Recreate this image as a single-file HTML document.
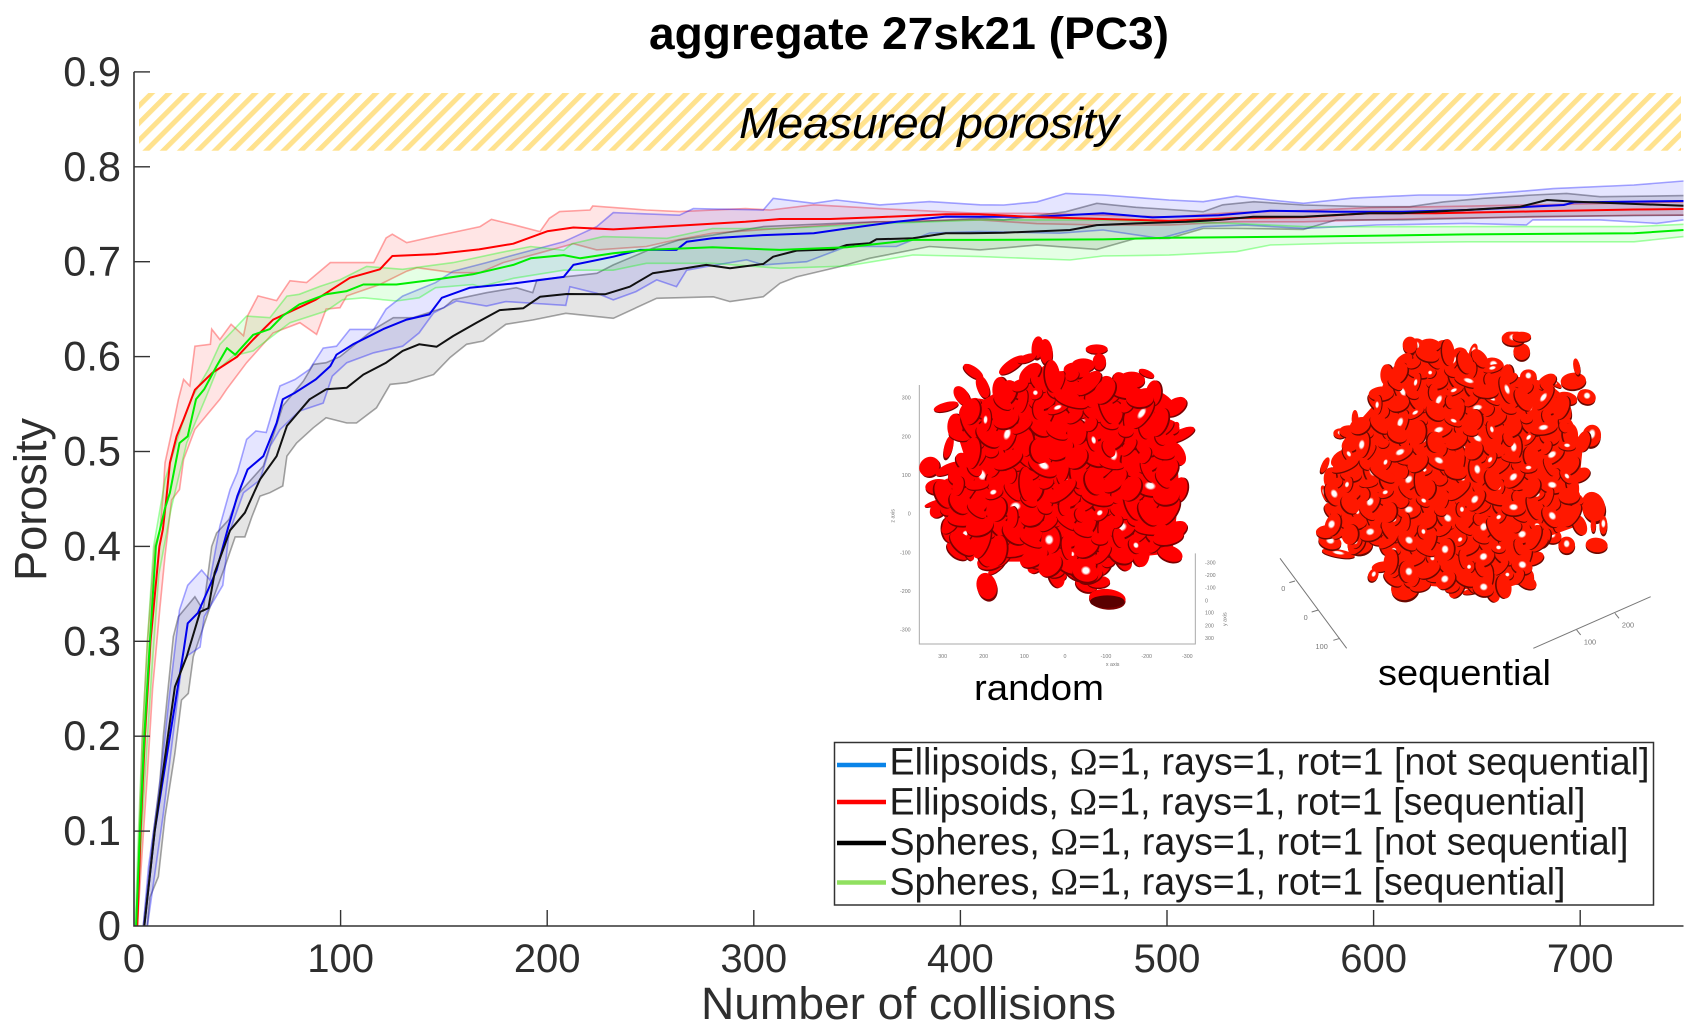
<!DOCTYPE html>
<html lang="en">
<head>
<meta charset="utf-8">
<title>aggregate 27sk21 (PC3)</title>
<style>
html,body{margin:0;padding:0;background:#fff;width:1701px;height:1036px;overflow:hidden}
svg{display:block}
text{font-family:"Liberation Sans",Arial,sans-serif}
.tick{font-size:40px;fill:#2e2e2e}
.ytick{font-size:41.5px;fill:#2e2e2e}
.leg{font-size:38px;fill:#1c1c1c}
.ins{font-size:16px;fill:#777}
</style>
</head>
<body>
<svg id="chart" xmlns="http://www.w3.org/2000/svg" width="1701" height="1036" viewBox="0 0 1701 1036">
  <defs>
    <pattern id="hatch" width="12.2" height="12.2" patternUnits="userSpaceOnUse" patternTransform="translate(148.3 93) rotate(45)">
      <rect width="5" height="12.2" fill="#ffe28e"></rect>
    </pattern>
    <radialGradient id="shine">
      <stop offset="0" stop-color="#fff"></stop>
      <stop offset="0.55" stop-color="#fff"></stop>
      <stop offset="1" stop-color="#fff" stop-opacity="0"></stop>
    </radialGradient>
    <clipPath id="plot-clip"><rect x="134" y="60" width="1550" height="866"></rect></clipPath>
    <clipPath id="seq-clip"><rect x="0" y="20" width="1200" height="950"></rect></clipPath>
  </defs>
  <rect x="0" y="0" width="1701" height="1036" fill="#fff"></rect>

  <g id="inset-random" transform="translate(890 330) scale(0.33333)">
    <g id="inset-random-axes" stroke="#aaa" stroke-width="3" fill="none">
      <path d="M88 165V942H916V670"></path>
    </g>
    <g>
      <text class="ins" x="62" y="209" text-anchor="end">300</text>
      <text class="ins" x="62" y="325" text-anchor="end">200</text>
      <text class="ins" x="62" y="441" text-anchor="end">100</text>
      <text class="ins" x="62" y="557" text-anchor="end">0</text>
      <text class="ins" x="62" y="673" text-anchor="end">-100</text>
      <text class="ins" x="62" y="789" text-anchor="end">-200</text>
      <text class="ins" x="62" y="905" text-anchor="end">-300</text>
      <text class="ins" x="158" y="984" text-anchor="middle">300</text>
      <text class="ins" x="281" y="984" text-anchor="middle">200</text>
      <text class="ins" x="403" y="984" text-anchor="middle">100</text>
      <text class="ins" x="525" y="984" text-anchor="middle">0</text>
      <text class="ins" x="648" y="984" text-anchor="middle">-100</text>
      <text class="ins" x="770" y="984" text-anchor="middle">-200</text>
      <text class="ins" x="892" y="984" text-anchor="middle">-300</text>
      <text class="ins" x="668" y="1008" text-anchor="middle">x axis</text>
      <text class="ins" x="945" y="703">-300</text>
      <text class="ins" x="945" y="741">-200</text>
      <text class="ins" x="945" y="779">-100</text>
      <text class="ins" x="945" y="817">0</text>
      <text class="ins" x="945" y="854">100</text>
      <text class="ins" x="945" y="892">200</text>
      <text class="ins" x="945" y="930">300</text>
      <text class="ins" transform="translate(1010 888) rotate(-90)">y axis</text>
      <text class="ins" transform="translate(13 578) rotate(-90)">z axis</text>
    </g>
  </g>

  <g id="inset-seq" transform="translate(1280 325) scale(0.33333)">
    <g stroke="#777" stroke-width="3" fill="none">
      <path d="M0 700L200 970M45 768L28 773M115 855L95 861M180 940L160 946M760 970L1112 815M890 915L902 930M1005 865L1017 880"></path>
    </g>
    <g>
      <text class="ins" style="font-size:22px" x="10" y="798" text-anchor="middle">0</text>
      <text class="ins" style="font-size:22px" x="77" y="885" text-anchor="middle">0</text>
      <text class="ins" style="font-size:22px" x="125" y="972" text-anchor="middle">100</text>
      <text class="ins" style="font-size:22px" x="930" y="958" text-anchor="middle">100</text>
      <text class="ins" style="font-size:22px" x="1044" y="907" text-anchor="middle">200</text>
    </g>
  </g>

  <text x="974" y="700" font-size="36" textLength="130" lengthAdjust="spacingAndGlyphs" fill="#000">random</text>
  <text x="1378" y="685" font-size="36" textLength="173" lengthAdjust="spacingAndGlyphs" fill="#000">sequential</text>

  <rect x="139" y="93" width="1542" height="57.7" fill="url(#hatch)"></rect>
  <text x="739" y="138" font-size="44" font-style="italic" textLength="380" lengthAdjust="spacingAndGlyphs" fill="#000">Measured porosity</text>

  <text x="649" y="49" font-size="45" font-weight="700" textLength="520" lengthAdjust="spacingAndGlyphs" fill="#000">aggregate 27sk21 (PC3)</text>

  <g id="series" clip-path="url(#plot-clip)"></g>
  <g id="axes"></g>

  <text transform="translate(46 581) rotate(-90)" font-size="45" textLength="163" lengthAdjust="spacingAndGlyphs" fill="#2e2e2e">Porosity</text>
  <text x="701" y="1019" font-size="45" textLength="415" lengthAdjust="spacingAndGlyphs" fill="#2e2e2e">Number of collisions</text>

  <g>
    <rect x="834.5" y="742.5" width="819" height="162.5" fill="#fff" stroke="#333" stroke-width="1.5"></rect>
    <line x1="837" x2="886" y1="765" y2="765" stroke="#0a84e8" stroke-width="4.5"></line>
    <line x1="837" x2="886" y1="802" y2="802" stroke="#ff0000" stroke-width="4.5"></line>
    <line x1="837" x2="886" y1="843" y2="843" stroke="#000" stroke-width="4.5"></line>
    <line x1="837" x2="886" y1="882.5" y2="882.5" stroke="#90e060" stroke-width="4.5"></line>
    <text class="leg" x="889.5" y="774.5" textLength="760" lengthAdjust="spacingAndGlyphs">Ellipsoids, <tspan font-family="Liberation Serif">Ω</tspan>=1, rays=1, rot=1 [not sequential]</text>
    <text class="leg" x="889.5" y="814.5" textLength="696" lengthAdjust="spacingAndGlyphs">Ellipsoids, <tspan font-family="Liberation Serif">Ω</tspan>=1, rays=1, rot=1 [sequential]</text>
    <text class="leg" x="889.5" y="854.5" textLength="739" lengthAdjust="spacingAndGlyphs">Spheres, <tspan font-family="Liberation Serif">Ω</tspan>=1, rays=1, rot=1 [not sequential]</text>
    <text class="leg" x="889.5" y="894.5" textLength="676" lengthAdjust="spacingAndGlyphs">Spheres, <tspan font-family="Liberation Serif">Ω</tspan>=1, rays=1, rot=1 [sequential]</text>
  </g>
</svg>

<script>
// Axis tick values
const xTicks = [0,100,200,300,400,500,600,700];
const yTicks = [0,0.1,0.2,0.3,0.4,0.5,0.6,0.7,0.8,0.9];
const yTickLabels = ['0','0.1','0.2','0.3','0.4','0.5','0.6','0.7','0.8','0.9'];

// Ellipsoids, not sequential (blue)
const blueMeanX = [5,10,17.4,24,26,31,35,40,45.6,50,55,62.6,69,72,78,88,95,98,106,120.6,132,143,149,162.6,183.6,208,212.7,232,245,262.6,267.5,280,304.6,329,345,369,393,404.6,437,469,493,525,550,582,614,645,692,697,750];
const blueMeanY = [0,0.1,0.2,0.29,0.319,0.33,0.35,0.375,0.42,0.453,0.481,0.495,0.53,0.555,0.562,0.576,0.59,0.602,0.613,0.629,0.639,0.6445,0.662,0.6726,0.677,0.684,0.6966,0.7053,0.7124,0.7124,0.721,0.7247,0.728,0.73,0.735,0.742,0.7475,0.7474,0.7474,0.751,0.7467,0.749,0.7537,0.7527,0.7527,0.7545,0.7597,0.7625,0.764];
const blueUpperX = [4.5,7,12,17,22,26,32.7,36.8,41.6,46.5,50,54.5,59,64,70.6,78,85,91.6,98,104.5,116,122,130,146,154.5,170.6,183.6,208,224,232,264,270.7,304.6,309.4,329,340,361,385,409.5,421,437,451,469,501,517.5,533.6,550,566,590,622,646,669,687,726,750];
const blueUpperY = [0,0.0625,0.14,0.24,0.333,0.359,0.375,0.3646,0.4215,0.46,0.4777,0.5128,0.5216,0.52,0.569,0.576,0.5866,0.609,0.611,0.6287,0.6287,0.65,0.6638,0.678,0.69,0.699,0.707,0.721,0.737,0.7517,0.749,0.756,0.7545,0.7668,0.7615,0.765,0.7598,0.7633,0.76,0.7597,0.763,0.772,0.7703,0.765,0.7632,0.769,0.765,0.7615,0.767,0.7703,0.7703,0.7738,0.777,0.7808,0.785];
const blueLowerX = [6.5,14,20,23,26,32,34,43,46,53,61,66,70.6,80,91.6,96,103,116,130,138,145,156,170.6,180,209,211,224,232,243,253,262.6,267.5,277,296.5,304.6,325.6,345,369,385,409.5,448,469,496.5,517.5,538,566,601.5,645,674,677,709.5,737,750];
const blueLowerY = [0,0.115,0.22,0.273,0.285,0.294,0.326,0.359,0.4137,0.4566,0.47,0.506,0.523,0.5426,0.551,0.5795,0.5936,0.604,0.611,0.625,0.646,0.6586,0.6533,0.658,0.654,0.6737,0.6667,0.6597,0.6685,0.6808,0.6737,0.691,0.6948,0.702,0.6966,0.70,0.716,0.716,0.73,0.7317,0.73,0.7334,0.7246,0.7369,0.7386,0.735,0.7387,0.7404,0.7387,0.744,0.744,0.7404,0.744];

// Ellipsoids, sequential (red)
const redMeanX = [1.6,3.2,5.3,8,12.3,14,15.8,17.4,20.6,24,29.5,38,50,57.7,67.4,88,104.5,119,125,146,167,183.6,200,212.7,232,248,264,296,312.7,337,361,393,409,437,469,501,533.6,566,598,630,677,726,750];
const redMeanY = [0,0.1,0.2,0.3,0.4,0.418,0.453,0.488,0.516,0.534,0.565,0.583,0.6,0.618,0.639,0.66,0.683,0.692,0.706,0.708,0.713,0.719,0.732,0.736,0.734,0.736,0.738,0.742,0.745,0.745,0.747,0.75,0.75,0.747,0.745,0.743,0.746,0.747,0.751,0.751,0.753,0.755,0.7555];
const redUpperX = [1,2.5,4,6.5,10,12.6,14,15,18.5,21.5,24,27,29.5,37,37.6,41.6,47,53,55,60,69,75.5,83.5,95,116,122,125,132,146,167.5,173,183.6,196.5,201,206,220.7,222,248,264,296,308,329,361,409,437,469,501,533,566,598,630,677,726,750];
const redUpperY = [0,0.1,0.2,0.3,0.4,0.418,0.453,0.488,0.523,0.555,0.576,0.569,0.611,0.613,0.629,0.618,0.634,0.622,0.643,0.664,0.659,0.68,0.678,0.699,0.699,0.725,0.729,0.72,0.727,0.737,0.7447,0.739,0.7317,0.7457,0.7528,0.7545,0.7587,0.7545,0.7528,0.756,0.7545,0.76,0.756,0.751,0.751,0.749,0.747,0.752,0.754,0.757,0.758,0.76,0.762,0.763];
const redLowerX = [1.6,4,6.5,9,12.6,15,18.2,22,24,29.5,41.6,44.8,54.5,67.4,80.3,88.4,93,99.7,103,119,132,137,154.5,167.4,178.7,196,212.7,224,248,258,280,312.7,361,409,437,469,501,533,566,598,630,677,726,750];
const redLowerY = [0,0.08,0.16,0.25,0.336,0.39,0.449,0.46,0.4917,0.5233,0.555,0.5655,0.5936,0.625,0.6357,0.6234,0.65,0.6515,0.664,0.676,0.69,0.6937,0.6884,0.6884,0.699,0.709,0.719,0.7124,0.716,0.721,0.73,0.735,0.742,0.744,0.74,0.7386,0.7386,0.742,0.742,0.744,0.7457,0.747,0.749,0.749];

// Spheres, not sequential (black)
const blackMeanX = [5,10,16.6,19.8,25.5,32,36,39,46.5,53.7,61,69,74,78.7,85,93,103,111,122,130,138,146.5,154.5,165.8,177,188.5,196.5,209.4,228,240,251,264,277,288.5,304.6,309.4,320.7,338.5,345,356,359.4,377,393,404.6,421,453,466,485,509.4,525.6,541.7,566,598,613,645,671,684,696.7,717.6,750];
const blackMeanY = [0,0.1,0.203,0.252,0.284,0.331,0.335,0.372,0.417,0.4355,0.4706,0.495,0.527,0.539,0.555,0.5655,0.5672,0.581,0.5936,0.606,0.613,0.6104,0.6217,0.6357,0.649,0.651,0.663,0.666,0.6657,0.6737,0.6878,0.692,0.6966,0.693,0.6976,0.7053,0.7117,0.713,0.7176,0.7194,0.7236,0.7247,0.73,0.73,0.7306,0.7334,0.7386,0.7404,0.742,0.744,0.7474,0.7474,0.751,0.751,0.7545,0.758,0.765,0.7633,0.7615,0.759];
const blackUpperX = [4.5,9,12.6,14.2,19,21.5,29.5,33.5,37.6,40,46,51,62.6,72,82,86.8,93,99.7,109,116,125.5,135,150,154.5,170.6,185,193,195,224,232,251,264,280,290,304.6,320.7,358,377,409.5,421,451,466,485,517.5,527,542,566,598,617.5,633.6,653,677,693.4,709.6,750];
const blackUpperY = [0,0.09,0.154,0.2,0.305,0.326,0.347,0.333,0.4,0.414,0.4285,0.4566,0.4847,0.548,0.5742,0.5918,0.5936,0.6,0.6164,0.6287,0.641,0.641,0.6515,0.66,0.6673,0.6726,0.6674,0.6808,0.6878,0.6966,0.7141,0.723,0.728,0.7317,0.737,0.7387,0.742,0.742,0.7457,0.744,0.7527,0.7615,0.7573,0.7527,0.76,0.7632,0.7597,0.758,0.758,0.763,0.7668,0.7703,0.772,0.7685,0.7696];
const blackLowerX = [6.5,7.7,11.8,15,19.8,23,26.3,28.7,36.8,44,49,53.7,57,61,65.8,72,74,78.7,86.8,93,103,107.7,117.4,124,132,145,153,161,169,180,193,209,232,253,280.4,288.5,304.6,312.7,320.7,341.7,356,385,409.5,437,466,485,501,517.5,533.6,566,582,614,646,677,750];
const blackLowerY = [0,0.03,0.052,0.115,0.182,0.238,0.245,0.284,0.336,0.3786,0.41,0.41,0.431,0.453,0.4566,0.4636,0.495,0.509,0.525,0.5356,0.53,0.53,0.546,0.5707,0.5725,0.581,0.599,0.613,0.6164,0.634,0.6386,0.6456,0.6404,0.6614,0.663,0.658,0.663,0.6772,0.684,0.6948,0.7036,0.716,0.7124,0.7175,0.713,0.7246,0.7246,0.735,0.735,0.734,0.744,0.744,0.7457,0.7475,0.749];

// Spheres, sequential (green)
const greenMeanX = [1,2.9,5,7.7,10.6,15,17.4,22,26,30,34,40,45,49,57.7,65.8,72,80,93,103,111,127,145,164,183.6,192,208,216,232,248,280,312.7,345,377,409.5,469,501,566,645,726,750];
const greenMeanY = [0,0.1,0.2,0.3,0.4,0.44,0.4566,0.509,0.516,0.555,0.5655,0.59,0.609,0.602,0.623,0.629,0.643,0.655,0.6656,0.669,0.676,0.676,0.681,0.6867,0.6966,0.7036,0.707,0.7036,0.709,0.7124,0.7152,0.7124,0.7152,0.723,0.723,0.7235,0.7253,0.7264,0.7288,0.7299,0.7334];
const greenUpperX = [0.6,2.2,4,6.5,9.5,15,23,28,36,41.6,54.5,65.8,74,80,90,99.7,112.6,130,154.5,177,192,208,212,227,258,280,312.7,361,409.5,469,533.6,566,580,645,726,750];
const greenUpperY = [0,0.1,0.2,0.3,0.4,0.47,0.527,0.5567,0.5865,0.613,0.6427,0.641,0.6638,0.6656,0.674,0.681,0.695,0.692,0.699,0.7095,0.716,0.712,0.719,0.7264,0.7247,0.735,0.735,0.74,0.744,0.744,0.7404,0.737,0.7369,0.737,0.737,0.7394];
const greenLowerX = [1.4,3.5,6,9,12,18,25.5,35,40,48,57.7,69,75.5,93,101,111,127,138,146,164,167.5,183.6,208,232,248,280,312.7,345,377,409.5,453,469,501,533.6,550,582,645,726,750];
const greenLowerY = [0,0.09,0.18,0.28,0.37,0.44,0.509,0.558,0.5848,0.6006,0.606,0.625,0.6357,0.648,0.66,0.662,0.6586,0.662,0.6726,0.676,0.6737,0.6825,0.691,0.691,0.6983,0.6983,0.693,0.6955,0.7071,0.7054,0.7018,0.706,0.707,0.7105,0.7176,0.7194,0.721,0.721,0.7264];

// Axis scales
const xScale = v => 134 + 2.066 * v;
const yScale = v => 926 - 949 * v;

const NS = 'http://www.w3.org/2000/svg';
const seriesLayer = document.getElementById('series');
const axesLayer = document.getElementById('axes');

function points(xs, ys) {
  return xs.map((x, i) => xScale(x).toFixed(1) + ',' + yScale(ys[i]).toFixed(1));
}

function drawBand(key, upX, upY, loX, loY, fill, edge) {
  const up = points(upX, upY);
  const lo = points(loX, loY);
  const band = document.createElementNS(NS, 'polygon');
  band.setAttribute('points', up.concat(lo.slice().reverse()).join(' '));
  band.setAttribute('fill', fill);
  band.setAttribute('fill-opacity', '0.1');
  band.setAttribute('stroke', 'none');
  
  
  seriesLayer.appendChild(band);
  const upper = document.createElementNS(NS, 'polyline');
  upper.setAttribute('points', up.join(' '));
  upper.setAttribute('fill', 'none');
  upper.setAttribute('stroke', edge);
  upper.setAttribute('stroke-opacity', '0.35');
  upper.setAttribute('stroke-width', '1.6');
  
  
  seriesLayer.appendChild(upper);
  const lower = document.createElementNS(NS, 'polyline');
  lower.setAttribute('points', lo.join(' '));
  lower.setAttribute('fill', 'none');
  lower.setAttribute('stroke', edge);
  lower.setAttribute('stroke-opacity', '0.35');
  lower.setAttribute('stroke-width', '1.6');
  
  
  seriesLayer.appendChild(lower);
}

function drawMean(key, xs, ys, color) {
  const line = document.createElementNS(NS, 'polyline');
  line.setAttribute('points', points(xs, ys).join(' '));
  line.setAttribute('fill', 'none');
  line.setAttribute('stroke', color);
  line.setAttribute('stroke-width', '2');
  line.setAttribute('stroke-linejoin', 'round');
  
  
  seriesLayer.appendChild(line);
}

drawBand('ellipsoids-sequential', redUpperX, redUpperY, redLowerX, redLowerY, '#ff0000', '#ff0000');
drawBand('spheres-not-sequential', blackUpperX, blackUpperY, blackLowerX, blackLowerY, '#000000', '#000000');
drawBand('ellipsoids-not-sequential', blueUpperX, blueUpperY, blueLowerX, blueLowerY, '#0000ff', '#0000ff');
drawBand('spheres-sequential', greenUpperX, greenUpperY, greenLowerX, greenLowerY, '#00ff00', '#00ff00');
drawMean('ellipsoids-not-sequential', blueMeanX, blueMeanY, '#0000ee');
drawMean('ellipsoids-sequential', redMeanX, redMeanY, '#ff0000');
drawMean('spheres-not-sequential', blackMeanX, blackMeanY, '#111111');
drawMean('spheres-sequential', greenMeanX, greenMeanY, '#00ee00');

// Axes
const axisPath = document.createElementNS(NS, 'path');
axisPath.setAttribute('d', 'M134 ' + yScale(0.9) + 'V926H' + xScale(750));
axisPath.setAttribute('fill', 'none');
axisPath.setAttribute('stroke', '#333');
axisPath.setAttribute('stroke-width', '1.6');


axesLayer.appendChild(axisPath);

yTicks.forEach((v, i) => {
  if (v > 0) {
    const t = document.createElementNS(NS, 'line');
    t.setAttribute('x1', 134);
    t.setAttribute('x2', 150);
    t.setAttribute('y1', yScale(v));
    t.setAttribute('y2', yScale(v));
    t.setAttribute('stroke', '#333');
    t.setAttribute('stroke-width', '1.4');
    
    
    axesLayer.appendChild(t);
  }
  const l = document.createElementNS(NS, 'text');
  l.setAttribute('x', 121);
  l.setAttribute('y', yScale(v) + 14);
  l.setAttribute('text-anchor', 'end');
  l.setAttribute('class', 'ytick');
  
  
  l.textContent = yTickLabels[i];
  axesLayer.appendChild(l);
});

xTicks.forEach(v => {
  if (v > 0) {
    const t = document.createElementNS(NS, 'line');
    t.setAttribute('x1', xScale(v));
    t.setAttribute('x2', xScale(v));
    t.setAttribute('y1', 910);
    t.setAttribute('y2', 926);
    t.setAttribute('stroke', '#333');
    t.setAttribute('stroke-width', '1.4');
    
    
    axesLayer.appendChild(t);
  }
  const l = document.createElementNS(NS, 'text');
  l.setAttribute('x', xScale(v));
  l.setAttribute('y', 972);
  l.setAttribute('text-anchor', 'middle');
  l.setAttribute('class', 'tick');
  
  
  l.textContent = String(v);
  axesLayer.appendChild(l);
});

// Inset illustrations of the ellipsoid aggregates (decorative, not chart data)
const randomOutline = [[330,180],[420,130],[560,120],[700,160],[790,190],[855,230],[830,290],[860,370],[868,480],[855,600],[840,670],[700,685],[640,700],[600,735],[560,725],[500,735],[440,695],[300,695],[205,660],[180,600],[150,530],[145,470],[230,400],[195,290],[240,235]];
const randomExtras = [[443,52,18,33,5],[468,65,20,38,-5],[365,105,45,16,-35],[410,85,30,12,-20],[620,57,33,14,0],[628,95,20,25,0],[250,125,35,15,35],[278,170,18,35,-20],[215,197,20,32,-35],[168,230,38,13,-15],[268,222,38,16,5],[118,410,32,28,-40],[175,416,42,14,-25],[176,350,13,35,15],[130,520,28,7,-20],[290,768,30,40,-15],[320,712,32,11,-40],[505,740,25,15,-10],[590,760,35,25,20],[625,755,35,18,0],[652,805,55,28,5],[840,662,10,25,5],[870,315,48,16,-25],[852,295,12,22,35],[725,150,40,25,0],[770,130,25,10,25],[800,205,55,22,25],[850,450,15,40,-15],[730,665,40,22,0],[580,105,35,20,0],[530,155,40,22,15],[470,130,20,25,0]];
const seqOutline = [[320,150],[370,110],[450,60],[600,100],[680,150],[800,170],[860,220],[860,300],[910,350],[900,450],[880,520],[900,600],[790,640],[760,700],[740,770],[640,800],[530,790],[420,780],[340,760],[320,660],[230,660],[140,620],[160,560],[150,460],[180,400],[210,320],[290,230]];
const seqExtras = [[410,65,25,25,0],[390,60,22,25,0],[490,80,30,35,0],[540,85,22,18,0],[580,80,12,25,15],[725,80,25,25,0],[700,40,35,22,0],[725,35,28,15,0],[640,120,32,22,10],[640,162,38,12,-20],[745,155,25,22,0],[880,168,38,25,-5],[822,172,28,8,35],[890,125,10,25,-10],[920,215,28,22,20],[860,250,12,32,-15],[935,332,28,33,10],[940,545,35,45,-15],[970,600,12,28,0],[940,600,8,22,0],[860,660,25,25,0],[950,660,33,22,5],[815,632,30,22,15],[375,790,42,35,-10],[395,765,25,22,0],[140,630,25,30,0],[175,685,50,12,10],[240,660,38,28,-10],[150,650,35,22,15],[305,725,30,15,-10],[280,750,15,20,25],[135,420,10,25,25],[135,505,10,25,-20],[225,280,10,25,0],[180,325,20,15,0],[180,530,35,20,15],[530,785,10,25,5],[572,800,25,8,-10],[630,780,30,25,-25],[740,755,22,25,0],[340,155,22,25,0],[180,415,18,30,-30]];

function inPoly(px, py, poly) {
  let c = false;
  for (let i = 0, j = poly.length - 1; i < poly.length; j = i++) {
    const a = poly[i], b = poly[j];
    if ((a[1] > py) !== (b[1] > py) && px < (b[0] - a[0]) * (py - a[1]) / (b[1] - a[1]) + a[0]) c = !c;
  }
  return c;
}
function frac(v) { return v - Math.floor(v); }

function addBody(g, key, e, red, dark, showShine) {
  const tf = 'rotate(' + e[4] + ' ' + e[0] + ' ' + e[1] + ')';
  const drop = 1.5 + e[3] * 0.16;
  const d = document.createElementNS(NS, 'ellipse');
  d.setAttribute('cx', e[0] + 0.5);
  d.setAttribute('cy', e[1] + drop);
  d.setAttribute('rx', e[2]);
  d.setAttribute('ry', e[3]);
  d.setAttribute('transform', tf);
  d.setAttribute('fill', dark);
  
  
  g.appendChild(d);
  const r = document.createElementNS(NS, 'ellipse');
  r.setAttribute('cx', e[0]);
  r.setAttribute('cy', e[1]);
  r.setAttribute('rx', e[2]);
  r.setAttribute('ry', e[3]);
  r.setAttribute('transform', tf);
  r.setAttribute('fill', red);
  
  
  g.appendChild(r);
  if (showShine) {
    const s = document.createElementNS(NS, 'ellipse');
    s.setAttribute('cx', e[0]);
    s.setAttribute('cy', e[1] - e[3] * 0.15);
    s.setAttribute('rx', Math.max(e[2] * 0.4, 7));
    s.setAttribute('ry', Math.max(e[3] * 0.5, 6));
    s.setAttribute('transform', tf);
    s.setAttribute('fill', 'url(#shine)');
    
    
    g.appendChild(s);
  }
}

function drawCluster(parentId, key, outline, extras, count, red, dark, shineEvery, scaleR, clipId) {
  const parent = document.getElementById(parentId);
  const g = document.createElementNS(NS, 'g');
  
  
  if (clipId) g.setAttribute('clip-path', 'url(#' + clipId + ')');
  parent.appendChild(g);
  extras.forEach((e, i) => addBody(g, key, e, red, dark, shineEvery < 6 && i % 2 === 0));
  const base = document.createElementNS(NS, 'polygon');
  base.setAttribute('points', outline.map(p => p.join(',')).join(' '));
  base.setAttribute('fill', red);
  
  
  g.appendChild(base);
  outline.forEach((p, i) => {
    addBody(g, key, [p[0], p[1], 34 * scaleR, 20 * scaleR, (i * 47) % 180 - 90], red, dark, false);
  });
  const xs = outline.map(p => p[0]), ys = outline.map(p => p[1]);
  const x0 = Math.min(...xs), x1 = Math.max(...xs), y0 = Math.min(...ys), y1 = Math.max(...ys);
  for (let i = 1; i <= count; i++) {
    const px = x0 + (x1 - x0) * frac(i * 0.7548776662);
    const py = y0 + (y1 - y0) * frac(i * 0.5698402910);
    if (!inPoly(px, py, outline)) continue;
    const rx = (18 + 28 * frac(i * 0.381966)) * scaleR;
    const ry = rx * (0.35 + 0.45 * frac(i * 0.2360679));
    const rot = -90 + 180 * frac(i * 0.4142136);
    addBody(g, key, [px, py, rx, ry, rot], red, dark, i % shineEvery === 0);
  }
}

drawCluster('inset-random', 'random', randomOutline, randomExtras, 300, '#ff0000', '#7a0000', 9, 1.15, null);
drawCluster('inset-seq', 'sequential', seqOutline, seqExtras, 340, '#ff1800', '#6a0800', 3, 0.95, 'seq-clip');

// The large dark-bottomed ellipsoid under the random cluster
const darkBody = document.createElementNS(NS, 'ellipse');
darkBody.setAttribute('cx', 652);
darkBody.setAttribute('cy', 815);
darkBody.setAttribute('rx', 52);
darkBody.setAttribute('ry', 19);
darkBody.setAttribute('fill', '#5a0000');


document.getElementById('inset-random').appendChild(darkBody);
</script>
</body>
</html>
